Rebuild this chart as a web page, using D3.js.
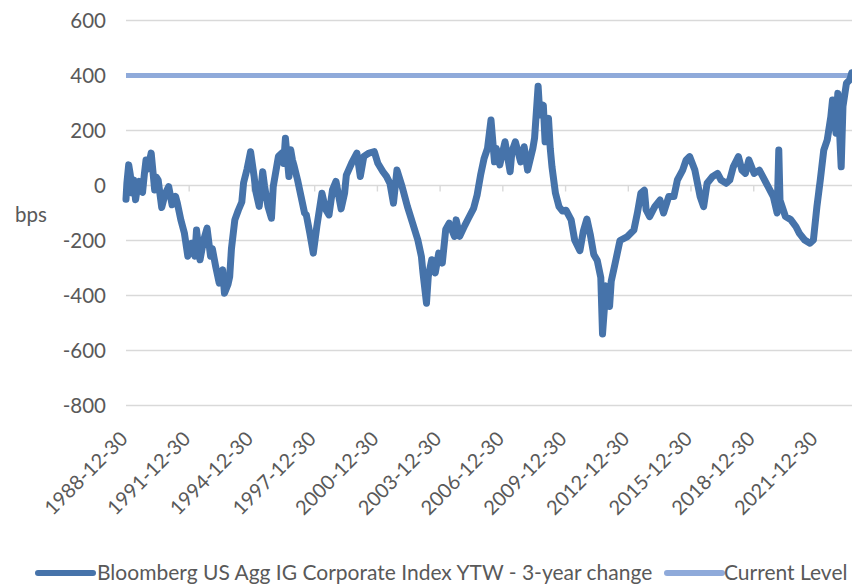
<!DOCTYPE html>
<html>
<head>
<meta charset="utf-8">
<script src="https://cdn.jsdelivr.net/npm/d3@7"></script>
<style>
  html, body { margin: 0; padding: 0; background: #ffffff; }
  svg { display: block; }
  text { font-family: Lato, "Open Sans", "DejaVu Sans", sans-serif; fill: #595959; }
</style>
</head>
<body>
<div id="chart"></div>
<script>
// ---- Data ----
const dates = [
"1988-12-30","1989-01-15","1989-02-15","1989-03-15","1989-04-15","1989-05-15","1989-06-15","1989-07-15","1989-08-15","1989-09-15",
"1989-10-15","1989-11-15","1989-12-15","1990-01-15","1990-03-15","1990-05-15","1990-06-15","1990-07-15","1990-09-15","1990-11-15",
"1991-01-15","1991-03-15","1991-05-15","1991-06-15","1991-08-15","1991-10-15","1991-12-15","1992-02-15","1992-04-15","1992-05-15",
"1992-07-15","1992-09-15","1992-11-15","1993-01-15","1993-02-15","1993-04-15","1993-06-15","1993-08-15","1993-09-15","1993-11-15",
"1993-12-15","1994-01-15","1994-03-15","1994-05-15","1994-07-15","1994-08-15","1994-10-15","1994-12-15","1995-02-15","1995-03-15",
"1995-05-15","1995-07-15","1995-08-15","1995-10-15","1995-12-15","1996-01-15","1996-04-15","1996-06-15","1996-07-15","1996-08-15",
"1996-10-15","1996-11-15","1996-12-15","1997-01-15","1997-03-15","1997-05-15","1997-07-15","1997-08-15","1997-10-15","1997-12-15",
"1998-02-15","1998-05-15","1998-07-15","1998-09-15","1998-11-15","1999-01-15","1999-04-15","1999-06-15","1999-07-15","1999-10-15",
"2000-01-15","2000-03-15","2000-05-15","2000-08-15","2000-11-15","2001-01-15","2001-04-15","2001-06-15","2001-08-15","2001-10-15",
"2001-12-15","2002-03-15","2002-06-15","2002-09-15","2002-12-15","2003-02-15","2003-03-15","2003-05-15","2003-06-15","2003-08-15",
"2003-10-15","2003-12-15","2004-02-15","2004-04-15","2004-06-15","2004-09-15","2004-10-15","2004-12-15","2005-03-15","2005-05-15",
"2005-08-15","2005-10-15","2005-12-15","2006-02-15","2006-04-15","2006-06-15","2006-08-15","2006-09-15","2006-11-15","2007-02-15",
"2007-05-15","2007-06-15","2007-08-15","2007-11-15","2008-01-15","2008-03-15","2008-06-15","2008-07-15","2008-09-15","2008-10-15",
"2008-12-15","2009-01-15","2009-03-15","2009-04-15","2009-05-15","2009-07-15","2009-09-15","2009-11-15","2010-01-15","2010-04-15",
"2010-06-15","2010-09-15","2010-11-15","2011-01-15","2011-03-15","2011-05-15","2011-07-15","2011-09-15","2011-10-15","2011-12-15",
"2012-02-15","2012-03-15","2012-05-15","2012-08-15","2012-12-15","2013-04-15","2013-06-15","2013-08-15","2013-10-15","2013-11-15",
"2014-01-15","2014-04-15","2014-07-15","2014-09-15","2014-12-15","2015-03-15","2015-05-15","2015-08-15","2015-10-15","2015-12-15",
"2016-03-15","2016-06-15","2016-08-15","2016-10-15","2017-01-15","2017-04-15","2017-06-15","2017-09-15","2017-11-15","2018-01-15",
"2018-04-15","2018-06-15","2018-08-15","2018-10-15","2019-01-15","2019-04-15","2019-06-15","2019-09-15","2019-12-15","2020-02-20",
"2020-03-20","2020-04-10","2020-07-15","2020-10-15","2021-01-15","2021-03-15","2021-06-15","2021-09-15","2021-11-15","2022-01-15",
"2022-03-15","2022-05-15","2022-07-15","2022-09-15","2022-10-15","2022-12-15","2023-01-15","2023-03-15","2023-04-15","2023-06-15",
"2023-08-15","2023-09-15"
];
const ytwChange = [
-50,10,75,40,-27,20,-52,-10,15,-20,
-25,40,93,60,118,-16,30,20,-80,-30,
-4,-70,-40,-64,-125,-172,-257,-210,-257,-162,
-270,-200,-155,-257,-230,-295,-355,-307,-392,-360,
-332,-230,-125,-90,-60,10,60,123,33,-20,
-76,50,0,-76,-119,-4,106,118,80,172,
33,130,93,70,20,-40,-100,-107,-173,-246,
-148,-28,-85,-107,-16,15,-85,-27,38,81,
118,33,106,118,123,81,50,33,8,-64,
56,-4,-76,-137,-198,-258,-318,-428,-331,-270,
-318,-246,-282,-160,-137,-185,-125,-185,-145,-120,
-83,-35,38,99,135,238,86,135,75,159,
50,123,159,86,141,56,135,172,361,256,
292,159,244,135,68,-28,-77,-93,-90,-125,
-198,-237,-165,-122,-178,-251,-273,-335,-540,-365,
-440,-348,-290,-200,-187,-162,-100,-28,-17,-89,
-113,-77,-53,-100,-40,-40,20,56,93,105,
56,-40,-77,8,32,44,20,8,20,68,
105,56,44,93,44,56,32,-4,-40,-100,
129,-53,-113,-124,-150,-174,-198,-210,-198,-77,
20,129,166,250,311,190,335,68,287,372,
385,410
];
const currentLevel = 400;
const yTicks = [600, 400, 200, 0, -200, -400, -600, -800];
const xTickLabels = ["1988-12-30","1991-12-30","1994-12-30","1997-12-30","2000-12-30","2003-12-30",
                     "2006-12-30","2009-12-30","2012-12-30","2015-12-30","2018-12-30","2021-12-30"];
const seriesNames = ["Bloomberg US Agg IG Corporate Index YTW - 3-year change", "Current Level"];
const seriesColors = ["#4673AA", "#8FAADA"];
const yAxisTitle = "bps";

// ---- Chart ----
const W = 852, H = 585;
const parse = d3.timeParse("%Y-%m-%d");
const fmt = d3.timeFormat("%Y-%m-%d");
const data = dates.map((d, i) => ({ date: parse(d), value: ytwChange[i] }));

const svg = d3.select("#chart").append("svg").attr("width", W).attr("height", H);

const x = d3.scaleTime()
  .domain([parse("1988-12-30"), parse("2023-09-20")])
  .range([126, 852]);
const y = d3.scaleLinear().domain([-800, 600]).range([405.5, 20.5]);

// gridlines
svg.append("g").selectAll("line").data(yTicks.filter(v => v !== 0)).join("line")
  .attr("x1", 126).attr("x2", W)
  .attr("y1", d => y(d)).attr("y2", d => y(d))
  .attr("stroke", "#d9d9d9").attr("stroke-width", 1.4);

// y tick labels (plain hyphen minus, as in the reference)
const yAxis = d3.axisLeft(y).tickValues(yTicks).tickSize(0).tickPadding(0).tickFormat(d => String(d));
const gy = svg.append("g").attr("transform", "translate(106,0)").call(yAxis);
gy.select(".domain").remove();
gy.selectAll("text").style("font-size", "20.5px").attr("fill", "#595959")
  .style("font-family", "Lato, 'Open Sans', sans-serif").attr("dy", "0.35em");

// axis title
svg.append("text").attr("x", 15).attr("y", 222).style("font-size", "20.5px").text(yAxisTitle);

// horizontal axis at zero with ticks
const tickDates = xTickLabels.map(parse);
const xAxis = d3.axisBottom(x).tickValues(tickDates).tickSize(6).tickFormat("");
const gx = svg.append("g").attr("transform", `translate(0,${y(0)})`).call(xAxis);
gx.select(".domain").attr("stroke", "#d9d9d9").attr("stroke-width", 1.4).attr("d", `M126,0H${W}`);
gx.selectAll(".tick line").attr("stroke", "#d9d9d9").attr("stroke-width", 1.4);

// rotated category labels at bottom
svg.append("g").selectAll("text").data(tickDates).join("text")
  .attr("transform", d => `translate(${x(d) + 3},440) rotate(-45)`)
  .attr("text-anchor", "end")
  .style("font-size", "20px")
  .text(d => fmt(d));

// current level line
svg.append("line")
  .attr("x1", x(parse("1988-12-30"))).attr("x2", W)
  .attr("y1", y(currentLevel)).attr("y2", y(currentLevel))
  .attr("stroke", seriesColors[1]).attr("stroke-width", 5);

// main series
const line = d3.line().x(d => x(d.date)).y(d => y(d.value));
svg.append("path").datum(data)
  .attr("d", line)
  .attr("fill", "none")
  .attr("stroke", seriesColors[0])
  .attr("stroke-width", 7)
  .attr("stroke-linejoin", "round")
  .attr("stroke-linecap", "round");

// legend
const legend = svg.append("g");
const legItems = [
  { x1: 38, x2: 93, tx: 97, name: seriesNames[0], color: seriesColors[0] },
  { x1: 667, x2: 722, tx: 724, name: seriesNames[1], color: seriesColors[1] }
];
legItems.forEach(it => {
  legend.append("line").attr("x1", it.x1).attr("x2", it.x2).attr("y1", 573).attr("y2", 573)
    .attr("stroke", it.color).attr("stroke-width", 6).attr("stroke-linecap", "round");
  legend.append("text").attr("x", it.tx).attr("y", 580).style("font-size", "21px").text(it.name);
});
</script>
</body>
</html>
